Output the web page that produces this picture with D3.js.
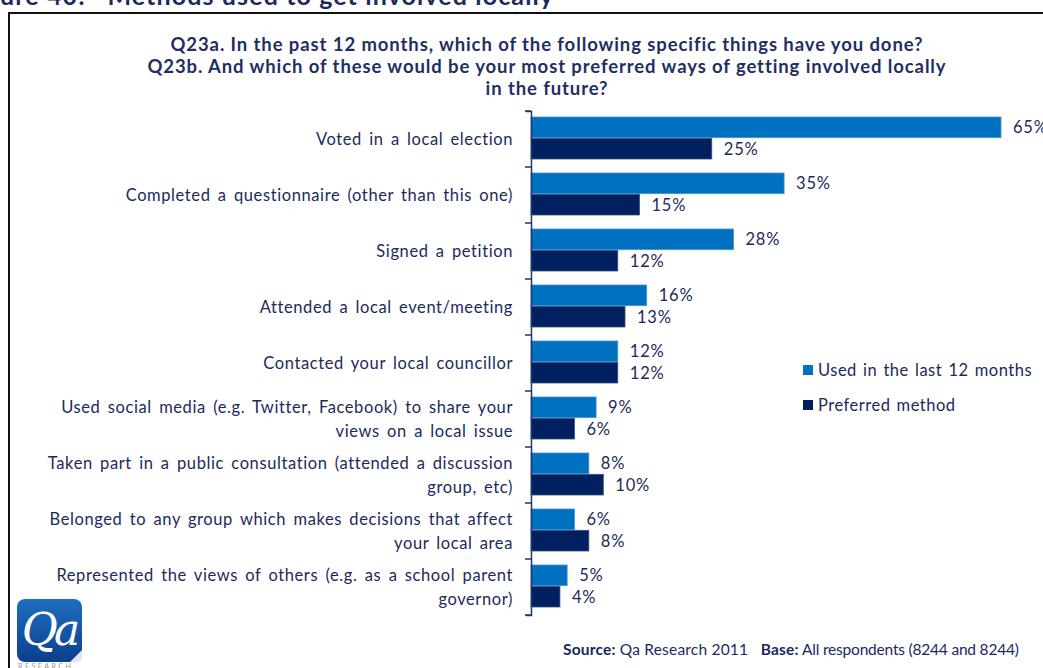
<!DOCTYPE html>
<html>
<head>
<meta charset="utf-8">
<script src="https://cdn.jsdelivr.net/npm/d3@7"></script>
<style>
  html, body { margin: 0; padding: 0; background: #fff; overflow: hidden; }
  svg { display: block; }
</style>
</head>
<body>
<svg id="chart" width="1043" height="668"></svg>
<script>
// Survey answers: methods of local involvement
const categories = [
  "Voted in a local election",
  "Completed a questionnaire (other than this one)",
  "Signed a petition",
  "Attended a local event/meeting",
  "Contacted your local councillor",
  "Used social media (e.g. Twitter, Facebook) to share your\nviews on a local issue",
  "Taken part in a public consultation (attended a discussion\ngroup, etc)",
  "Belonged to any group which makes decisions that affect\nyour local area",
  "Represented the views of others (e.g. as a school parent\ngovernor)"
];
const usedLast12 = [65, 35, 28, 16, 12, 9, 8, 6, 5];
const preferred  = [25, 15, 12, 13, 12, 6, 10, 8, 4];
const seriesNames = ["Used in the last 12 months", "Preferred method"];
const titleLines = [
  "Q23a. In the past 12 months, which of the following specific things have you done?",
  "Q23b. And which of these would be your most preferred ways of getting involved locally",
  "in the future?"
];

const colors = ["#0070c0", "#002060"];
const textColor = "#1b2a5c";
const fontFamily = "Lato, 'Open Sans', sans-serif";

const svg = d3.select("#chart");

// Figure heading (partly above the page edge)
svg.append("text")
  .attr("x", 0).attr("y", 5)
  .attr("font-family", fontFamily).attr("font-weight", 700)
  .attr("font-size", 25).attr("fill", "#1b2a5c")
  .attr("textLength", 553).attr("lengthAdjust", "spacing")
  .style("white-space", "pre")
  .text("ure 40:   Methods used to get involved locally");

// Frame
svg.append("rect")
  .attr("x", 9).attr("y", 13).attr("width", 1100).attr("height", 700)
  .attr("fill", "none").attr("stroke", "#111").attr("stroke-width", 2);

// Title
svg.append("g").selectAll("text").data(titleLines).join("text")
  .attr("x", 547).attr("y", (d, i) => 51 + i * 22)
  .attr("text-anchor", "middle")
  .attr("font-family", fontFamily).attr("font-weight", 700)
  .attr("font-size", 18.5).attr("letter-spacing", 0.9)
  .attr("fill", "#1f2f5f")
  .text(d => d);

// Scales
const x = d3.scaleLinear().domain([0, 65]).range([531, 1001]);
const y = d3.scaleBand().domain(d3.range(categories.length)).range([111, 615]);
const inner = d3.scaleBand().domain([0, 1]).range([6, y.bandwidth() - 8]).paddingInner(0.03);

// Bars
const groups = svg.append("g").selectAll("g").data(categories).join("g")
  .attr("transform", (d, i) => `translate(0,${y(i)})`);

groups.each(function(d, i) {
  const g = d3.select(this);
  const vals = [usedLast12[i], preferred[i]];
  vals.forEach((v, s) => {
    g.append("rect")
      .attr("x", x(0)).attr("y", inner(s))
      .attr("width", x(v) - x(0)).attr("height", inner.bandwidth())
      .attr("fill", colors[s])
      .attr("stroke", s === 0 ? "#4a90d0" : "#3a4f80").attr("stroke-width", 0.8);
    g.append("text")
      .attr("x", x(v) + 12)
      .attr("y", inner(s) + inner.bandwidth() / 2 + 6)
      .attr("font-family", fontFamily).attr("font-size", 16.5)
      .attr("letter-spacing", 0.8)
      .attr("fill", textColor)
      .text(v + "%");
  });
});

// Axis
const axis = d3.axisLeft(y).tickSize(5).tickFormat("");
const axisG = svg.append("g").attr("transform", `translate(${x(0)},0)`).call(axis);
axisG.selectAll(".tick").remove();
axisG.select(".domain").attr("stroke", "#1f3864").attr("stroke-width", 1.5);
const boundaries = d3.range(categories.length + 1).map(i => 111 + i * y.step());
axisG.selectAll("line.bound").data(boundaries).join("line")
  .attr("class", "bound")
  .attr("x1", -6).attr("x2", 0).attr("y1", d => d).attr("y2", d => d)
  .attr("stroke", "#1f3864").attr("stroke-width", 1.5);

// Category labels
groups.each(function(d, i) {
  const lines = d.split("\n");
  const cy = y.bandwidth() / 2;
  const t = d3.select(this).append("text")
    .attr("text-anchor", "end")
    .attr("font-family", fontFamily).attr("font-size", 16.5)
    .attr("letter-spacing", 0.6).attr("word-spacing", 2.5)
    .attr("fill", textColor);
  lines.forEach((ln, k) => {
    t.append("tspan")
      .attr("x", 513)
      .attr("y", cy + 6 + (k - (lines.length - 1) / 2) * 24)
      .text(ln);
  });
});

// Legend
const legend = svg.append("g").attr("transform", "translate(803,365)");
seriesNames.forEach((name, s) => {
  legend.append("rect")
    .attr("x", 0).attr("y", s * 35).attr("width", 10).attr("height", 10)
    .attr("fill", colors[s]);
  legend.append("text")
    .attr("x", 15).attr("y", s * 35 + 11)
    .attr("font-family", fontFamily).attr("font-size", 16.5)
    .attr("letter-spacing", 0.5).attr("word-spacing", 1.5)
    .attr("fill", textColor)
    .text(name);
});

// Source line
const src = svg.append("text")
  .attr("x", 563).attr("y", 655)
  .attr("font-family", fontFamily).attr("font-size", 15.5)
  .attr("letter-spacing", 0.2)
  .style("white-space", "pre")
  .attr("fill", "#1b2a5c");
src.append("tspan").attr("font-weight", 700).text("Source:");
src.append("tspan").text(" Qa Research 2011   ");
src.append("tspan").attr("font-weight", 700).text("Base:");
src.append("tspan").attr("letter-spacing", -0.2).text(" All respondents (8244 and 8244)");

// Logo
const defs = svg.append("defs");
const grad = defs.append("linearGradient").attr("id", "logoGrad")
  .attr("x1", 0).attr("y1", 0).attr("x2", 0).attr("y2", 1);
grad.append("stop").attr("offset", "0%").attr("stop-color", "#1f6fc0");
grad.append("stop").attr("offset", "100%").attr("stop-color", "#0a3f8c");
svg.append("rect")
  .attr("x", 17).attr("y", 599).attr("width", 65).attr("height", 63).attr("rx", 8)
  .attr("fill", "url(#logoGrad)");
svg.append("path")
  .attr("d", "M70,662 L82,650 L82,656 Q82,662 76,662 Z")
  .attr("fill", "#dfe6f0");
svg.append("text")
  .attr("x", 49).attr("y", 645).attr("text-anchor", "middle")
  .attr("font-family", "'DejaVu Serif', 'Liberation Serif', serif")
  .attr("font-style", "italic").attr("font-size", 44).attr("fill", "#fff")
  .attr("letter-spacing", -4)
  .text("Qa");
svg.append("text")
  .attr("x", 18).attr("y", 669)
  .attr("font-family", fontFamily).attr("font-size", 7).attr("letter-spacing", 2.5)
  .attr("fill", "#8a9ab5")
  .text("RESEARCH");
</script>
</body>
</html>
